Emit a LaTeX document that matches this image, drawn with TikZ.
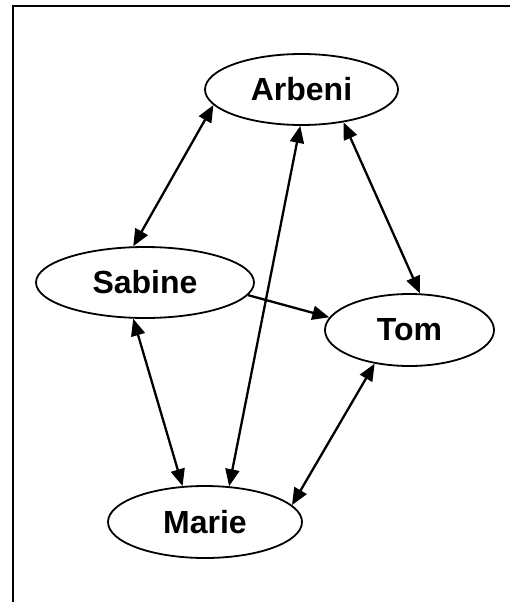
\documentclass[tikz,border=0pt]{standalone}
\usepackage{fontspec}
\setmainfont{Liberation Sans}
\usetikzlibrary{shapes.geometric, arrows.meta}

\begin{document}
\begin{tikzpicture}[
					x=1pt, y=-1pt,
					person/.style={ellipse, draw, line width=1.8pt, inner sep=0pt, font=\fontsize{32}{32}\selectfont\bfseries},
					link/.style={line width=2.3pt, {Triangle[length=17pt, width=14pt]}-{Triangle[length=17pt, width=14pt]}},
					oneway/.style={line width=2.3pt, -{Triangle[length=17pt, width=14pt]}}
					]
					\useasboundingbox (0,0) rectangle (510,602);
					\draw[line width=2.4pt] (13,602) -- (13,6) -- (510,6);
					\node[person, minimum width=193pt, minimum height=71pt] (arbeni) at (301.5,89.5) {Arbeni};
					\node[person, minimum width=218pt, minimum height=71pt] (sabine) at (145,282.5) {Sabine};
					\node[person, minimum width=169pt, minimum height=72pt] (tom) at (409.5,330) {Tom};
					\node[person, minimum width=194pt, minimum height=72pt] (marie) at (205,522) {Marie};
					% connections
					\draw[link] (arbeni.190) -- (sabine.108);
					\draw[link] (arbeni.268) -- (marie.56);
					\draw[link] (arbeni.322) -- (tom.74);
					\draw[oneway] (sabine.353.5) -- (tom.171.5);
					\draw[link] (sabine.252) -- (marie.122);
					\draw[link] (tom.224.6) -- (marie.11);
				\end{tikzpicture}
\end{document}
